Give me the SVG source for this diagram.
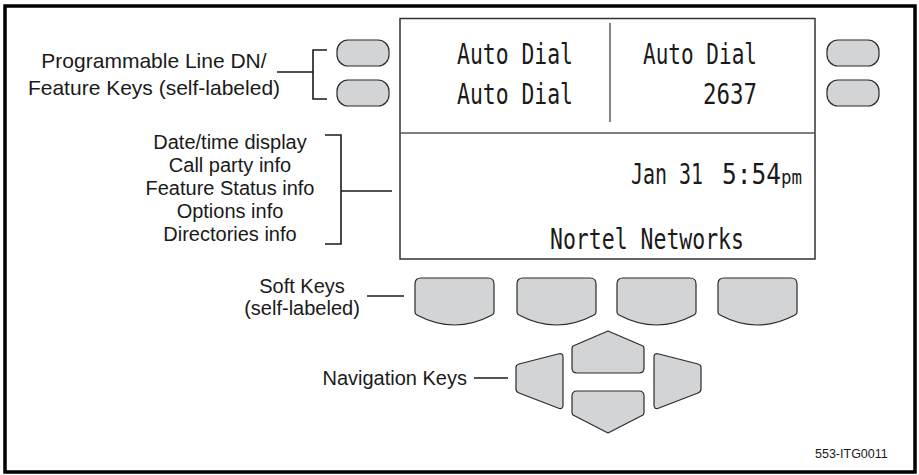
<svg xmlns="http://www.w3.org/2000/svg" width="919" height="475" viewBox="0 0 919 475">
<style>
.lbl{font-family:"Liberation Sans",Arial,sans-serif;font-size:20px;fill:#1a1a1a;text-anchor:middle}
.lcd{font-family:"DejaVu Sans Mono","Liberation Mono",monospace;font-size:28px;fill:#1a1a1a}
.key{fill:#d3d4d6;stroke:#2a2a2a;stroke-width:1.2;stroke-linejoin:round}
.ln{stroke:#1a1a1a;stroke-width:1.6;fill:none}
</style>
<defs>
<path id="softkey" d="M6,0 H73 Q79,0 79,6 V34 Q79,36 77,37 Q39.5,57 2,37 Q0,36 0,34 V6 Q0,0 6,0 Z"/>
</defs>
<rect x="0" y="0" width="919" height="475" fill="#fff"/>
<rect id="frame" x="5" y="6" width="910" height="466" fill="none" stroke="#000" stroke-width="3.5"/>

<g id="screen">
<rect x="400" y="18.5" width="415" height="240.5" fill="#fff" stroke="#333" stroke-width="1.5"/>
<line x1="400" y1="133" x2="815" y2="133" stroke="#555" stroke-width="1.5"/>
<line x1="610" y1="23" x2="610" y2="122" stroke="#333" stroke-width="1.2"/>
<text class="lcd" x="457" y="64" textLength="116" lengthAdjust="spacingAndGlyphs">Auto Dial</text>
<text class="lcd" x="457" y="104" textLength="116" lengthAdjust="spacingAndGlyphs">Auto Dial</text>
<text class="lcd" x="643" y="64" textLength="114" lengthAdjust="spacingAndGlyphs">Auto Dial</text>
<text class="lcd" x="703" y="104" textLength="54" lengthAdjust="spacingAndGlyphs">2637</text>
<text class="lcd" x="631" y="184" textLength="72" lengthAdjust="spacingAndGlyphs">Jan 31</text>
<text class="lcd" x="722" y="184" textLength="80" lengthAdjust="spacingAndGlyphs">5:54<tspan style="font-size:20px">pm</tspan></text>
<text class="lcd" x="550" y="249" textLength="194" lengthAdjust="spacingAndGlyphs">Nortel Networks</text>
</g>

<g id="line-keys-left">
<rect class="key" x="337" y="40" width="52" height="26" rx="11"/>
<rect class="key" x="337" y="80" width="52" height="26" rx="11"/>
</g>
<g id="line-keys-right">
<rect class="key" x="827" y="40" width="52" height="26" rx="11"/>
<rect class="key" x="827" y="80" width="52" height="26" rx="11"/>
</g>

<g id="soft-keys">
<use href="#softkey" class="key" x="415" y="278"/>
<use href="#softkey" class="key" x="517" y="278"/>
<use href="#softkey" class="key" x="617" y="278"/>
<use href="#softkey" class="key" x="718" y="278"/>
</g>

<g id="navigation-keys">
<path class="key" d="M608,331 L643,346 Q644,347 644,349 V368 Q644,373 639,373 H577 Q572,373 572,368 V349 Q572,347 573,346 Z"/>
<path class="key" d="M577,391 H639 Q644,391 644,396 V412 Q644,414 643,415 L608,433 L573,415 Q572,414 572,412 V396 Q572,391 577,391 Z"/>
<path class="key" d="M558,354 Q563,352.5 563,357 V405 Q563,410 558,408 L519,393 Q516,392 516,389 V367 Q516,365 519,364 Z"/>
<path class="key" d="M659,354 Q654,352.5 654,357 V405 Q654,410 659,408 L698,393 Q701,392 701,389 V367 Q701,365 698,364 Z"/>
</g>

<g id="label-line-keys">
<text class="lbl" x="154" y="68" style="font-size:21px">Programmable Line DN/</text>
<text class="lbl" x="154" y="95" style="font-size:21px">Feature Keys (self-labeled)</text>
</g>
<g id="label-display">
<text class="lbl" x="230" y="149">Date/time display</text>
<text class="lbl" x="230" y="172">Call party info</text>
<text class="lbl" x="230" y="195">Feature Status info</text>
<text class="lbl" x="230" y="218">Options info</text>
<text class="lbl" x="230" y="241">Directories info</text>
</g>
<g id="label-soft-keys">
<text class="lbl" x="302" y="293">Soft Keys</text>
<text class="lbl" x="302" y="315">(self-labeled)</text>
</g>
<g id="label-navigation">
<text class="lbl" x="467" y="385" style="text-anchor:end">Navigation Keys</text>
</g>
<text id="figure-id" x="815" y="458" style="font-family:'Liberation Sans',Arial,sans-serif;font-size:12.5px;fill:#1a1a1a">553-ITG0011</text>

<g id="connectors">
<path class="ln" d="M277,72 H313 M327,50 H313 V99 H327"/>
<path class="ln" d="M325,135 H341 V244 H325 M341,191 H392"/>
<path class="ln" d="M367,296 H404"/>
<path class="ln" d="M474,378 H508"/>
</g>
</svg>
